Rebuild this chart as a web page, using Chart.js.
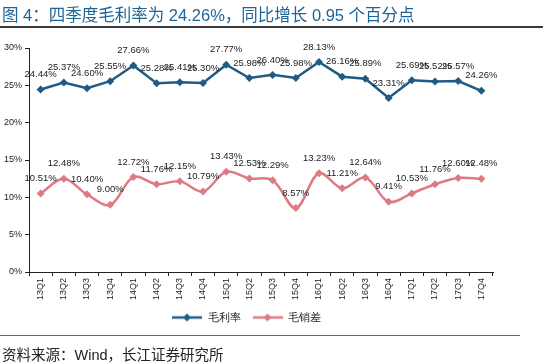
<!DOCTYPE html>
<html lang="zh">
<head>
<meta charset="UTF-8">
<title>毛利率与毛销差</title>
<script src="https://cdn.jsdelivr.net/npm/chart.js"></script>
<style>
    body { margin: 0; background: #fff; }
    #wrap { position: relative; width: 543px; height: 363px; overflow: hidden; }
    #chart { position: absolute; left: 0; top: 0; }
    .title {
        position: absolute; left: 2px; top: 2px; white-space: nowrap;
        font-family: "Liberation Sans", "Noto Sans CJK SC", sans-serif;
        font-size: 16.5px; color: #1f6496;
    }
    .title-rule { position: absolute; left: 0; top: 26px; width: 543px; height: 2px; background: #3a3a3a; }
    .foot-rule { position: absolute; left: 0; top: 335px; width: 520px; height: 1px; background: #666; }
    .source {
        position: absolute; left: 2px; top: 343px; white-space: nowrap;
        font-family: "Liberation Sans", "Noto Sans CJK SC", sans-serif;
        font-size: 14.5px; color: #222;
    }
</style>
</head>
<body>
<div id="wrap">
    <canvas id="chart" width="543" height="363"></canvas>
    <div class="title">图 4：四季度毛利率为 24.26%，同比增长 0.95 个百分点</div>
    <div class="title-rule"></div>
    <div class="foot-rule"></div>
    <div class="source">资料来源：Wind，长江证券研究所</div>
</div>

<script>
    // quarters on the x axis
    const quarters = ['13Q1', '13Q2', '13Q3', '13Q4', '14Q1', '14Q2', '14Q3', '14Q4',
        '15Q1', '15Q2', '15Q3', '15Q4', '16Q1', '16Q2', '16Q3', '16Q4',
        '17Q1', '17Q2', '17Q3', '17Q4'];
    // 毛利率 (%)
    const grossMargin = [24.44, 25.37, 24.60, 25.55, 27.66, 25.28, 25.41, 25.30,
        27.77, 25.98, 26.40, 25.98, 28.13, 26.16, 25.89, 23.31,
        25.69, 25.52, 25.57, 24.26];
    // 毛销差 (%)
    const marginLessSelling = [10.51, 12.48, 10.40, 9.00, 12.72, 11.76, 12.15, 10.79,
        13.43, 12.53, 12.29, 8.57, 13.23, 11.21, 12.64, 9.41,
        10.53, 11.76, 12.60, 12.48];
    const yTicks = [0, 5, 10, 15, 20, 25, 30];

    const BLUE = '#1f5b84';
    const PINK = '#de7a82';
    const FONT = '"Liberation Sans", Arial, sans-serif';

    // small line+diamond sample used in the legend
    function legendIcon(color) {
        const c = document.createElement('canvas');
        c.width = 30; c.height = 10;
        const g = c.getContext('2d');
        g.strokeStyle = color;
        g.lineWidth = 2.5;
        g.beginPath(); g.moveTo(0, 5); g.lineTo(30, 5); g.stroke();
        g.fillStyle = color;
        g.beginPath();
        g.moveTo(15, 1); g.lineTo(19, 5); g.lineTo(15, 9); g.lineTo(11, 5);
        g.closePath(); g.fill();
        return c;
    }

    // value labels above each point
    const pointLabels = {
        id: 'pointLabels',
        afterDatasetsDraw(chart) {
            const ctx = chart.ctx;
            ctx.save();
            ctx.font = '9.5px ' + FONT;
            ctx.fillStyle = '#222';
            ctx.textAlign = 'center';
            ctx.textBaseline = 'middle';
            chart.data.datasets.forEach((ds, i) => {
                chart.getDatasetMeta(i).data.forEach((pt, j) => {
                    ctx.fillText(ds.data[j].toFixed(2) + '%', pt.x, pt.y - 15);
                });
            });
            ctx.restore();
        }
    };

    new Chart(document.getElementById('chart'), {
        type: 'line',
        data: {
            labels: quarters,
            datasets: [{
                label: '毛利率',
                data: grossMargin,
                borderColor: BLUE,
                backgroundColor: BLUE,
                borderWidth: 2.5,
                tension: 0,
                pointStyle: 'rectRot',
                pointRadius: 4,
                pointBorderWidth: 0
            }, {
                label: '毛销差',
                data: marginLessSelling,
                borderColor: PINK,
                backgroundColor: PINK,
                borderWidth: 2.5,
                tension: 0.35,
                pointStyle: 'rectRot',
                pointRadius: 4,
                pointBorderWidth: 0
            }]
        },
        options: {
            responsive: false,
            animation: false,
            layout: { padding: { left: 0, right: 50, top: 48, bottom: 30 } },
            plugins: {
                tooltip: { enabled: false },
                legend: {
                    position: 'bottom',
                    labels: {
                        usePointStyle: true,
                        pointStyleWidth: 30,
                        padding: 12,
                        color: '#222',
                        font: { family: FONT, size: 11 },
                        generateLabels(chart) {
                            return chart.data.datasets.map((ds, i) => ({
                                text: ds.label,
                                pointStyle: legendIcon(ds.borderColor),
                                fillStyle: ds.borderColor,
                                strokeStyle: ds.borderColor,
                                lineWidth: 0,
                                fontColor: '#222',
                                datasetIndex: i
                            }));
                        }
                    }
                }
            },
            scales: {
                x: {
                    offset: true,
                    afterFit(scale) { scale.height = 28; },
                    grid: { display: true, drawOnChartArea: false, offset: true, tickLength: 4, color: '#222' },
                    border: { color: '#222', width: 1 },
                    ticks: {
                        minRotation: 90, maxRotation: 90, autoSkip: false, padding: 2,
                        color: '#222', font: { family: FONT, size: 9 }
                    }
                },
                y: {
                    min: 0, max: 30,
                    afterFit(scale) { scale.width = 29; },
                    afterBuildTicks(scale) { scale.ticks = yTicks.map(v => ({ value: v })); },
                    grid: { display: true, drawOnChartArea: false, tickLength: 4, color: '#222' },
                    border: { color: '#222', width: 1 },
                    ticks: {
                        padding: 3, color: '#222',
                        font: { family: FONT, size: 9 },
                        callback: v => v + '%'
                    }
                }
            }
        },
        plugins: [pointLabels]
    });
</script>
</body>
</html>
